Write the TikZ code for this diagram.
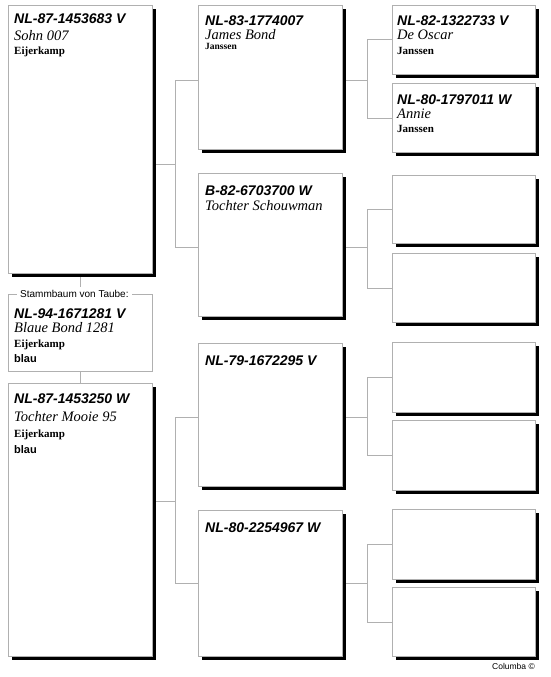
\documentclass[tikz,border=0pt]{standalone}
\usepackage{fontspec}
\usepackage{tikz}
\newfontfamily\arialfont{Liberation Sans}
\newfontfamily\timesfont{Liberation Serif}
\definecolor{framegray}{RGB}{176,176,176}
\usetikzlibrary{shadows, backgrounds}

\begin{document}
\begin{tikzpicture}[
          x=1pt, y=-1pt,
          pbox/.style={
              draw=framegray,
              fill=white,
              line width=0.8pt,
              anchor=north west,
              inner sep=0pt,
              minimum width=144pt,
              drop shadow={shadow xshift=3.5pt, shadow yshift=-3.5pt, fill=black, opacity=1}
            },
          gbox/.style={pbox, minimum width=143pt},
          plain/.style={draw=framegray, fill=white, line width=0.8pt, anchor=north west,
              inner sep=0pt, minimum width=144pt},
          ring/.style={anchor=base west, inner sep=0pt, font=\arialfont\bfseries\itshape\fontsize{14}{16}\selectfont},
          pname/.style={anchor=base west, inner sep=0pt, font=\timesfont\itshape\fontsize{14.5}{16}\selectfont},
          breeder/.style={anchor=base west, inner sep=0pt, font=\timesfont\bfseries\fontsize{11}{13}\selectfont},
          breedersm/.style={breeder, font=\timesfont\bfseries\fontsize{9.5}{11}\selectfont},
          colour/.style={anchor=base west, inner sep=0pt, font=\arialfont\bfseries\fontsize{11}{13}\selectfont},
          link/.style={draw=framegray, line width=0.8pt}
        ]
        \useasboundingbox (0,0) rectangle (550,677);

        \node[pbox, minimum height=268pt] (sire) at (8,5) {};
        \node[ring] (sire_ring) at (14,24) {NL-87-1453683 V};
        \node[pname] (sire_name) at (14,40.5) {Sohn 007};
        \node[breeder] (sire_br) at (14,55) {Eijerkamp};

        \node[plain, minimum height=77pt] (taube) at (8,294) {};
        \node[anchor=west, fill=white, inner sep=3pt, font=\arialfont\fontsize{10}{12}\selectfont] (taube_lbl) at (17,294) {Stammbaum von Taube:};
        \node[ring] (taube_ring) at (14,318) {NL-94-1671281 V};
        \node[pname] (taube_name) at (14,332) {Blaue Bond 1281};
        \node[breeder] (taube_br) at (14,347) {Eijerkamp};
        \node[colour] (taube_col) at (14,362) {blau};

        \node[pbox, minimum height=273pt] (dam) at (8,383) {};
        \node[ring] (dam_ring) at (14,403.5) {NL-87-1453250 W};
        \node[pname] (dam_name) at (14,421) {Tochter Mooie 95};
        \node[breeder] (dam_br) at (14,437) {Eijerkamp};
        \node[colour] (dam_col) at (14,453) {blau};

        \node[pbox, minimum height=144pt] (p_a) at (198,5) {};
        \node[ring] at (205,26) {NL-83-1774007};
        \node[pname] at (205,39.5) {James Bond};
        \node[breedersm] at (205,49) {Janssen};

        \node[pbox, minimum height=143pt] (p_b) at (198,173) {};
        \node[ring] at (205,195) {B-82-6703700 W};
        \node[pname] at (205,210.5) {Tochter Schouwman};

        \node[pbox, minimum height=143pt] (p_c) at (198,343) {};
        \node[ring] at (205,365) {NL-79-1672295 V};

        \node[pbox, minimum height=146pt] (p_d) at (198,510) {};
        \node[ring] at (205,532) {NL-80-2254967 W};

        \node[gbox, minimum height=69pt] (g_a) at (392,5) {};
        \node[ring] at (397,26) {NL-82-1322733 V};
        \node[pname] at (397,40) {De Oscar};
        \node[breeder] at (397,54.5) {Janssen};

        \node[gbox, minimum height=69pt] (g_b) at (392,83) {};
        \node[ring] at (397,104) {NL-80-1797011 W};
        \node[pname] at (397,118.5) {Annie};
        \node[breeder] at (397,132) {Janssen};

        \node[gbox, minimum height=68pt] (g_c) at (392,175) {};
        \node[gbox, minimum height=69pt] (g_d) at (392,253) {};
        \node[gbox, minimum height=70pt] (g_e) at (392,342) {};
        \node[gbox, minimum height=70pt] (g_f) at (392,420) {};
        \node[gbox, minimum height=70pt] (g_g) at (392,509) {};
        \node[gbox, minimum height=69pt] (g_h) at (392,587) {};

        \node[anchor=base east, inner sep=0pt, font=\arialfont\fontsize{8.5}{10}\selectfont] (credit) at (535,669) {Columba ©};

        \coordinate (j_sire) at (175.5,164);
        \coordinate (j_dam) at (175.5,501.5);
        \coordinate (j_a) at (367.5,80);
        \coordinate (j_b) at (367.5,247);
        \coordinate (j_c) at (367.5,417);
        \coordinate (j_d) at (367.5,583);

        \begin{scope}[on background layer]
          \draw[link] (sire.south) -- (taube.north);
          \draw[link] (taube.south) -- (dam.north);
          \draw[link] (sire.east |- j_sire) -- (j_sire);
          \draw[link] (p_a.west |- j_a) -| (j_sire) |- (p_b.west |- j_b);
          \draw[link] (dam.east |- j_dam) -- (j_dam);
          \draw[link] (p_c.west |- j_c) -| (j_dam) |- (p_d.west |- j_d);
          \draw[link] (p_a.east |- j_a) -- (j_a);
          \draw[link] (g_a.west) -| (j_a) |- (g_b.west);
          \draw[link] (p_b.east |- j_b) -- (j_b);
          \draw[link] (g_c.west) -| (j_b) |- (g_d.west);
          \draw[link] (p_c.east |- j_c) -- (j_c);
          \draw[link] (g_e.west) -| (j_c) |- (g_f.west);
          \draw[link] (p_d.east |- j_d) -- (j_d);
          \draw[link] (g_g.west) -| (j_d) |- (g_h.west);
        \end{scope}
      \end{tikzpicture}
\end{document}
